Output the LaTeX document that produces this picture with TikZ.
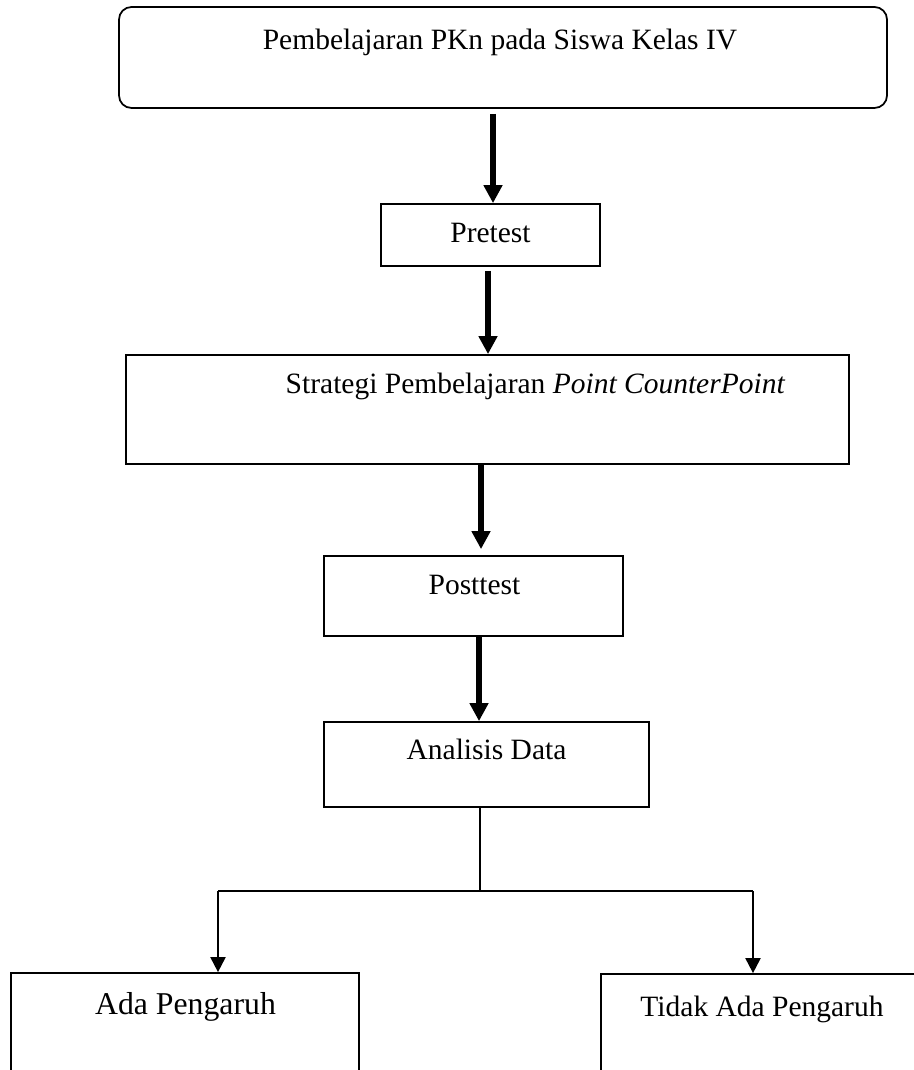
\documentclass[tikz,border=0pt]{standalone}
\usepackage{fontspec}
\setmainfont{Liberation Serif}
\usetikzlibrary{arrows.meta,fit}
\begin{document}
\begin{tikzpicture}[x=0.4pt,y=-0.4pt,
  boxstyle/.style={draw, line width=0.7pt, inner sep=0pt, fill=none},
  lbl/.style={anchor=base, inner sep=0pt, font=\fontsize{11.8}{14}\selectfont},
  biglbl/.style={anchor=base, inner sep=0pt, font=\fontsize{12.7}{15}\selectfont},
  bigarrow/.style={line width=2.6pt, -{Triangle[length=7.2pt,width=7.2pt]}},
  brarrow/.style={line width=0.8pt, -{Triangle[length=6pt,width=6pt]}}
]
\useasboundingbox (0,0) rectangle (913,1070);
% boxes
\node[boxstyle, rounded corners=5pt, fit={(119,7) (887,108)}] (top) {};
\node[boxstyle, fit={(381,204) (600,266)}] (pre) {};
\node[boxstyle, fit={(126,355) (849,464)}] (strat) {};
\node[boxstyle, fit={(324,556) (623,636)}] (post) {};
\node[boxstyle, fit={(324,722) (649,807)}] (ana) {};
\node[boxstyle, fit={(11,973) (359,1100)}] (ada) {};
\node[boxstyle, fit={(601,974) (940,1100)}] (tidak) {};
% texts
\node[lbl] (ttop) at (500,50) {Pembelajaran PKn pada Siswa Kelas IV};
\node[lbl] (tpre) at (490.5,243) {Pretest};
\node[lbl] (tstrat) at (535.5,394) {Strategi Pembelajaran \textit{Point CounterPoint}};
\node[lbl] (tpost) at (474.5,594) {Posttest};
\node[lbl] (tana) at (486.5,759) {Analisis Data};
\node[biglbl] (tada) at (185.5,1014) {Ada Pengaruh};
\node[lbl] (ttidak) at (762,1016) {Tidak Ada Pengaruh};
% connectors
\draw[bigarrow, shorten <=2pt] (top.south -| 493,0) -- (pre.north -| 493,0);
\draw[bigarrow, shorten <=1.6pt] (pre.south -| 488,0) -- (strat.north -| 488,0);
\draw[bigarrow, shorten >=2.4pt] (strat.south -| 481,0) -- (post.north -| 481,0);
\draw[bigarrow] (post.south -| 479,0) -- (ana.north -| 479,0);
\coordinate (jm) at (480,891);
\coordinate (jl) at (218,891);
\coordinate (jr) at (753,891);
\draw[line width=0.45pt] (ana.south -| jm) -- (jm);
\draw[line width=0.65pt] (jl) -- (jr);
\draw[brarrow] (jl) -- (ada.north -| jl);
\draw[brarrow] (jr) -- (tidak.north -| jr);
\end{tikzpicture}
\end{document}
